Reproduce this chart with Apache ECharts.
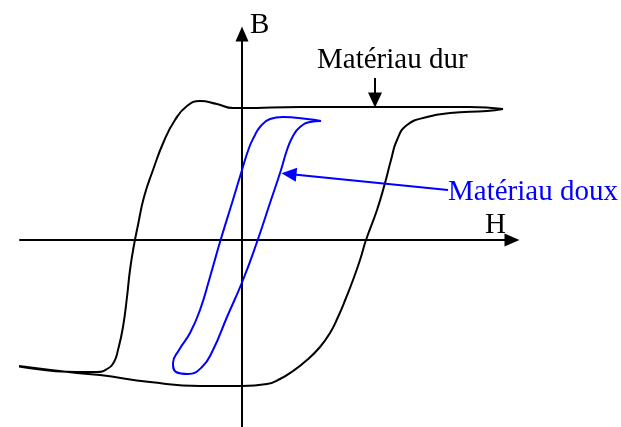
<!DOCTYPE html>
<html>
<head>
<meta charset="utf-8">
<script src="https://cdn.jsdelivr.net/npm/echarts@6/dist/echarts.min.js"></script>
<style>
  html, body { margin: 0; padding: 0; background: #fff; }
  #chart { width: 621px; height: 427px; }
</style>
</head>
<body>
<div id="chart"></div>
<script>
  // cycle d'hystérésis, coordonnées [H, B] (unités arbitraires)
  var durLoop = [
    [261, 131], [228, 133], [131, 133], [58, 133], [0, 132], [-9, 132],
    [-25, 136], [-42, 139], [-55, 134], [-67, 120], [-78, 99], [-89, 70],
    [-98, 43], [-104, 15], [-108, -5], [-112, -30], [-115, -57], [-119, -87],
    [-124, -110], [-128, -122], [-135, -129], [-145, -132], [-165, -132], [-230, -125],
    [-165, -133], [-142, -135], [-92, -142], [-42, -146], [0, -146], [25, -144],
    [38, -139], [51, -131], [65, -120], [78, -107], [88, -93], [96, -77],
    [104, -58], [111, -40], [118, -20], [124, 0], [135, 30], [143, 57],
    [149, 80], [155, 100], [165, 115], [185, 123], [208, 127], [245, 129], [261, 131]
  ];
  var douxLoop = [
    [79, 119], [65, 121], [41, 123], [28, 121], [18, 113], [12, 103],
    [7, 92], [0, 70], [-10, 37], [-22, -2], [-32, -37], [-42, -70],
    [-52, -93], [-63, -110], [-69, -123], [-66, -132], [-54, -134], [-40, -127],
    [-29, -110], [-15, -77], [1, -40], [15, -2], [28, 37], [39, 70],
    [45, 90], [51, 104], [58, 113], [68, 118], [79, 119]
  ];
  // flèches d'annotation [départ, arrivée]
  var durArrow = [[133, 162], [133, 140]];
  var douxArrow = [[206, 50], [47, 66]];
  var labels = ['B', 'H', 'Matériau dur', 'Matériau doux'];

  var serif = '"Liberation Serif", "Times New Roman", serif';
  var myChart = echarts.init(document.getElementById('chart'));
  var option = {
    animation: false,
    grid: { left: 20, right: 109, top: 34, bottom: 0 },
    xAxis: {
      type: 'value', min: -222, max: 270,
      axisLine: { onZero: true, symbol: ['none', 'triangle'], symbolSize: [13, 15],
        lineStyle: { color: '#000', width: 2 } },
      axisTick: { show: false }, axisLabel: { show: false }, splitLine: { show: false }
    },
    yAxis: {
      type: 'value', min: -187, max: 206,
      axisLine: { onZero: true, symbol: ['none', 'triangle'], symbolSize: [13, 15],
        lineStyle: { color: '#000', width: 2 } },
      axisTick: { show: false }, axisLabel: { show: false }, splitLine: { show: false }
    },
    series: [
      {
        name: labels[2], type: 'line', data: durLoop, smooth: 0.5, clip: false,
        showSymbol: false, lineStyle: { color: '#000', width: 2 },
        markLine: {
          silent: true, symbol: ['none', 'triangle'], symbolSize: [14, 15],
          label: { show: false }, lineStyle: { color: '#000', width: 2, type: 'solid' },
          data: [[{ coord: durArrow[0] }, { coord: durArrow[1] }]]
        }
      },
      {
        name: labels[3], type: 'line', data: douxLoop, smooth: 0.5, clip: false,
        showSymbol: false, lineStyle: { color: '#0000ff', width: 2 },
        markLine: {
          silent: true, symbol: ['none', 'triangle'], symbolSize: [14, 15],
          label: { show: false }, lineStyle: { color: '#0000ff', width: 2, type: 'solid' },
          data: [[{ coord: douxArrow[0] }, { coord: douxArrow[1] }]]
        }
      }
    ],
    graphic: [
      { type: 'text', left: 250, top: 11, style: { text: labels[0], font: '29px ' + serif, fill: '#000' } },
      { type: 'text', left: 485, top: 211, style: { text: labels[1], font: '29px ' + serif, fill: '#000' } },
      { type: 'text', left: 317, top: 46, style: { text: labels[2], font: '29px ' + serif, fill: '#000' } },
      { type: 'text', left: 448, top: 178, style: { text: labels[3], font: '29px ' + serif, fill: '#0000ff' } }
    ]
  };
  myChart.setOption(option);
</script>
</body>
</html>
